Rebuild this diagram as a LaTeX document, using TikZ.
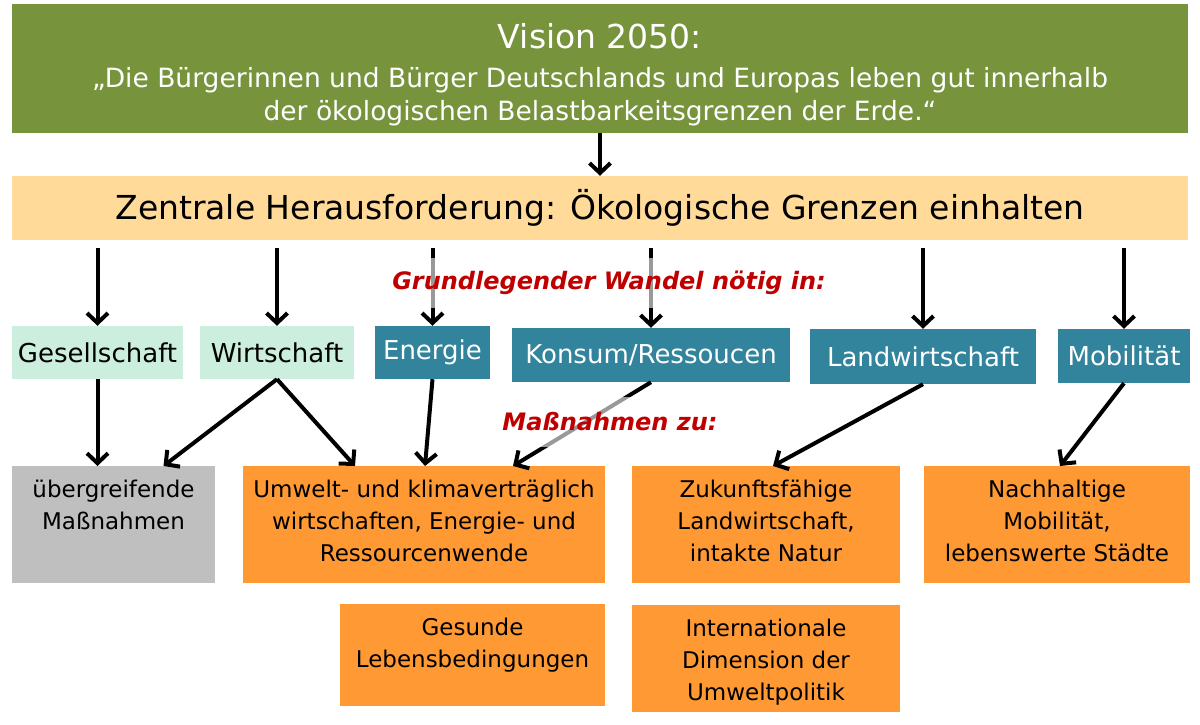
\documentclass[tikz,border=0pt]{standalone}
\usepackage{fontspec}
\setmainfont{DejaVu Sans}
\usetikzlibrary{arrows.meta}

\definecolor{visiongreen}{HTML}{77933C}
\definecolor{challenge}{HTML}{FFDA98}
\definecolor{mint}{HTML}{CCEEDE}
\definecolor{teal}{HTML}{31849B}
\definecolor{measure}{HTML}{FF9933}
\definecolor{crossgrey}{HTML}{BFBFBF}
\definecolor{wandelred}{HTML}{C00000}

\newcommand{\boxlines}[1]{\begin{tabular}[t]{@{}c@{}}#1\end{tabular}}

\begin{document}
\begin{tikzpicture}[x=1pt,y=-1pt,
  box/.style={rectangle, inner sep=0pt},
  field/.style={box, minimum height=53pt, font=\fontsize{26}{30}\selectfont},
  mintfield/.style={field, fill=mint},
  tealfield/.style={field, fill=teal, text=white},
  action/.style={box, fill=measure, inner ysep=13pt, text height=18pt, anchor=north,
    font=\fontsize{23}{32}\selectfont},
  redlabel/.style={text=wandelred, font=\fontsize{24}{28}\selectfont\bfseries\itshape,
    fill=white, fill opacity=0.6, text opacity=1, inner sep=0pt, minimum height=50pt},
  arr/.style={line width=4pt, -{Straight Barb[length=10pt,width=21pt,line width=4pt]}}]

\useasboundingbox (0,0) rectangle (1200,724);

% vision and challenge
\node [box, fill=visiongreen, text=white, minimum width=1176pt, anchor=north,
  text height=44pt, text depth=85pt, font=\fontsize{26.5}{33}\selectfont] (vision) at (600,4)
  {\boxlines{\fontsize{33}{40}\selectfont Vision 2050:\\[6pt]
   „Die Bürgerinnen und Bürger Deutschlands und Europas leben gut innerhalb\\
   der ökologischen Belastbarkeitsgrenzen der Erde.“}};
\node [box, fill=challenge, minimum width=1176pt, minimum height=64pt,
  font=\fontsize{33}{40}\selectfont] (challenge) at (600,208)
  {Zentrale Herausforderung: Ökologische Grenzen einhalten};

% fields of change
\node [mintfield, minimum width=171pt] (society) at (97.5,352.5) {Gesellschaft};
\node [mintfield, minimum width=154pt] (economy) at (277,352.5) {Wirtschaft};
\node [tealfield, minimum width=115pt] (energy) at (432.5,352.5) {Energie};
\node [tealfield, minimum width=278pt, minimum height=54pt] (consume) at (651,355) {Konsum/Ressoucen};
\node [tealfield, minimum width=226pt, minimum height=55pt] (farming) at (923,356.5) {Landwirtschaft};
\node [tealfield, minimum width=132pt, minimum height=54pt] (mobility) at (1124,356) {Mobilität};

% measures
\node [action, fill=crossgrey, minimum width=203pt, text depth=73pt] (crossing) at (113.5,466)
  {\boxlines{übergreifende\\Maßnahmen}};
\node [action, minimum width=362pt, text depth=73pt] (climate) at (424,466)
  {\boxlines{Umwelt- und klimaverträglich\\wirtschaften, Energie- und\\Ressourcenwende}};
\node [action, minimum width=268pt, text depth=73pt] (nature) at (766,466)
  {\boxlines{Zukunftsfähige\\Landwirtschaft,\\intakte Natur}};
\node [action, minimum width=266pt, text depth=73pt] (cities) at (1057,466)
  {\boxlines{Nachhaltige\\Mobilität,\\lebenswerte Städte}};
\node [action, minimum width=265pt, text depth=58pt] (health) at (472.5,604)
  {\boxlines{Gesunde\\Lebensbedingungen}};
\node [action, minimum width=268pt, text depth=63pt] (global) at (766,605)
  {\boxlines{Internationale\\Dimension der\\Umweltpolitik}};

% arrows
\draw [arr] (vision.south) -- (challenge.north);
\foreach \f in {society,economy,energy,consume,farming,mobility}
  \draw [arr] (challenge.south -| \f.north) ++(0,8) -- (\f.north);
\draw [arr] (society.south) -- (crossing.north -| society.south);
\draw [arr] (economy.south) -- ([xshift=50pt]crossing.north);
\draw [arr] (economy.south) -- ([xshift=-69pt]climate.north);
\draw [arr] (energy.south) -- ([xshift=1pt]climate.north);
\draw [arr] (consume.south) -- ([xshift=89pt]climate.north);
\draw [arr] (farming.south) -- ([xshift=7pt]nature.north);
\draw [arr] (mobility.south) -- ([xshift=3pt]cities.north);

% labels over the arrows
\node [redlabel, minimum width=558pt] (wandel) at (609,283) {Grundlegender Wandel nötig in:};
\node [redlabel, minimum width=230pt] (massnahmen) at (610,422) {Maßnahmen zu:};
\end{tikzpicture}
\end{document}
